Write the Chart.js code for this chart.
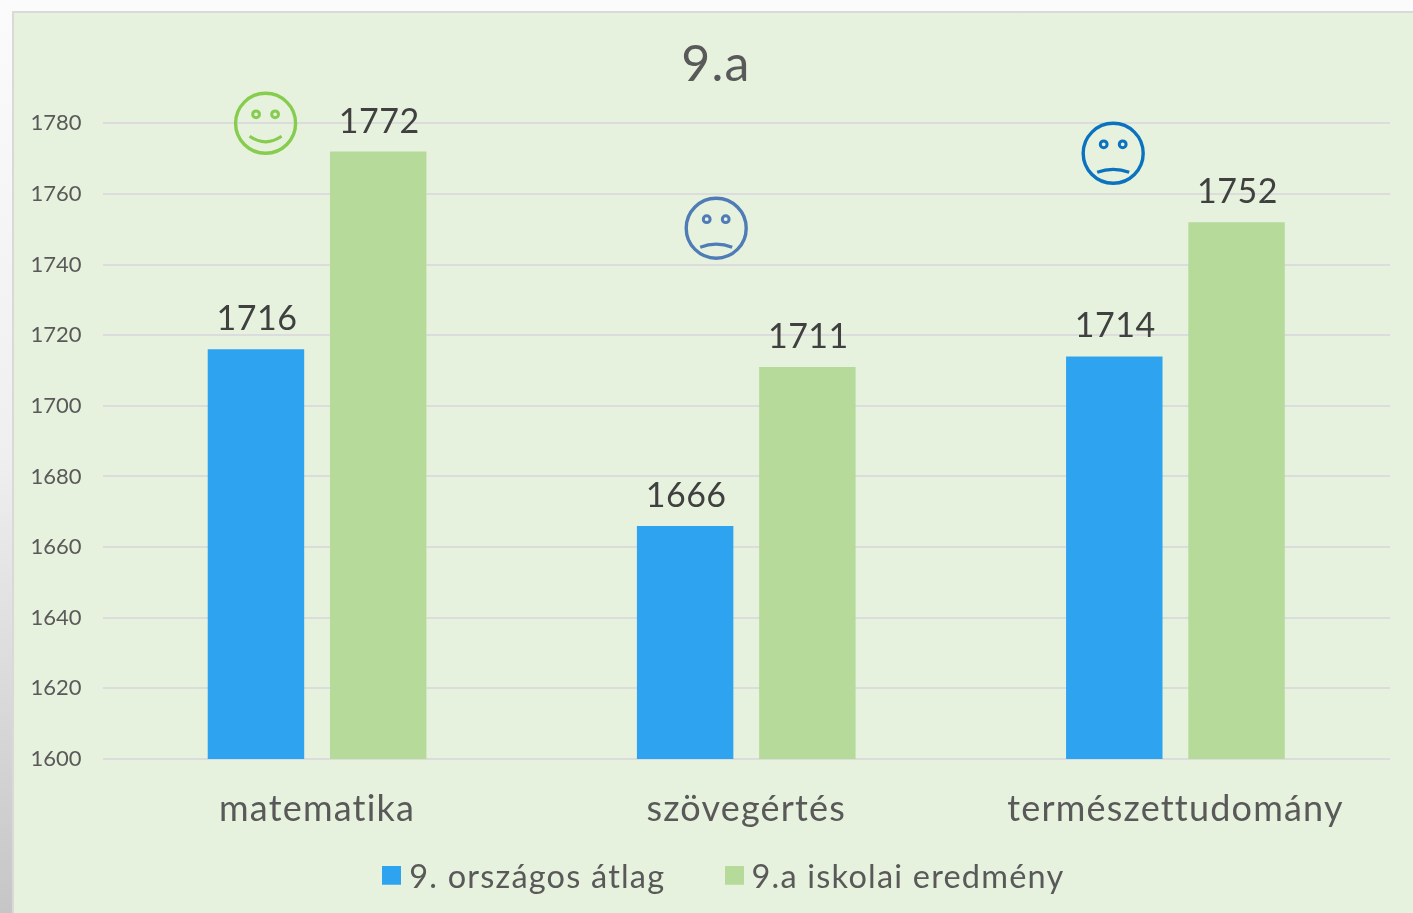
<!DOCTYPE html>
<html><head><meta charset="utf-8">
<style>
html,body{margin:0;padding:0;width:1413px;height:913px;overflow:hidden}
body{background:linear-gradient(180deg,#fbfbfb 0%,#efefef 50%,#c6c6c6 100%);position:relative}
#panel{position:absolute;left:12px;top:11px;width:1401px;height:902px;box-sizing:border-box;background:#e6f2dd;border-left:2px solid #d9d9d9;border-top:2px solid #d9d9d9}
#wrap{position:absolute;left:19px;top:0;width:1394px;height:913px}
</style></head><body>
<div id="panel"></div>
<div id="wrap"><canvas id="c" width="1394" height="913"></canvas></div>
<script src="https://cdn.jsdelivr.net/npm/chart.js@4/dist/chart.umd.js"></script>
<script>
const titleText = '9.a';
const categories = ['matematika', 'szövegértés', 'természettudomány'];
const seriesNames = ['9. országos átlag', '9.a iskolai eredmény'];
const nationalAvg = [1716, 1666, 1714];
const schoolResult = [1772, 1711, 1752];
const seriesColors = ['#2ea3f0', '#b6da9a'];
const axisMin = 1600, axisMax = 1780, axisStep = 20;
const faceMoods = ['happy', 'sad', 'sad'];
const faceColors = ['#86cc4e', '#4f7cb6', '#0b72c0'];
const faceCategoryOffset = [-0.12, -0.07, -0.145];
const faceValues = [1780, 1750.3, 1771.5];
const FONT = 'Lato, "Open Sans", sans-serif';

function swatch(color) {
  const c = document.createElement('canvas');
  c.width = 19; c.height = 23;
  const g = c.getContext('2d');
  g.fillStyle = color; g.fillRect(0, 0, 19, 19);
  return c;
}

const valueLabels = {
  id: 'valueLabels',
  afterDatasetsDraw(chart) {
    const ctx = chart.ctx;
    ctx.save();
    ctx.letterSpacing = '0.5px';
    ctx.font = '34px ' + FONT;
    ctx.fillStyle = '#404040';
    ctx.textAlign = 'center';
    ctx.textBaseline = 'bottom';
    chart.data.datasets.forEach((ds, i) => {
      chart.getDatasetMeta(i).data.forEach((bar, j) => {
        ctx.fillText(String(ds.data[j]), bar.x + 1, bar.y - 13);
      });
    });
    ctx.restore();
  }
};
const faces = {
  id: 'faces',
  afterDatasetsDraw(chart) {
    const ctx = chart.ctx, xs = chart.scales.x, ys = chart.scales.y;
    const step = xs.getPixelForValue(1) - xs.getPixelForValue(0);
    faceMoods.forEach((mood, i) => {
      const cx = xs.getPixelForValue(i) + faceCategoryOffset[i] * step;
      const cy = ys.getPixelForValue(faceValues[i]);
      ctx.save();
      ctx.strokeStyle = faceColors[i];
      ctx.lineWidth = 3.4;
      ctx.beginPath(); ctx.arc(cx, cy, 30, 0, Math.PI * 2); ctx.stroke();
      ctx.lineWidth = 3;
      [-9.5, 9.5].forEach(dx => { ctx.beginPath(); ctx.arc(cx + dx, cy - 9, 3.4, 0, Math.PI * 2); ctx.stroke(); });
      ctx.lineWidth = 3.2;
      ctx.beginPath();
      if (mood === 'happy') { ctx.moveTo(cx - 16, cy + 13); ctx.quadraticCurveTo(cx, cy + 24, cx + 16, cy + 13); }
      else { ctx.moveTo(cx - 16, cy + 19); ctx.quadraticCurveTo(cx, cy + 13, cx + 16, cy + 19); }
      ctx.stroke();
      ctx.restore();
    });
  }
};
const placeBlocks = {
  id: 'placeBlocks',
  afterLayout(chart) {
    const l = chart.legend, t = chart.titleBlock, y = chart.scales.y, ctx = chart.ctx;
    t.left += 11.5; t.right += 11.5;
    l.left += 1; l.right += 1;
    l.top = 793; l.bottom = 913;
    const drawLabels = y.drawLabels;
    y.drawLabels = function (area) {
      ctx.save(); ctx.letterSpacing = '0px';
      drawLabels.call(this, area);
      ctx.restore();
    };
  },
  beforeDraw(chart) { chart.ctx.letterSpacing = '1.2px'; }
};

new Chart(document.getElementById('c'), {
  type: 'bar',
  data: {
    labels: categories,
    datasets: [
      { label: seriesNames[0], data: nationalAvg, backgroundColor: seriesColors[0] },
      { label: seriesNames[1], data: schoolResult, backgroundColor: seriesColors[1] }
    ]
  },
  plugins: [valueLabels, faces, placeBlocks],
  options: {
    responsive: false,
    animation: false,
    categoryPercentage: 0.5697,
    barPercentage: 0.789,
    layout: { padding: { left: 0, right: 23, top: 0, bottom: 0 } },
    plugins: {
      title: { display: true, text: titleText, color: '#595959', font: { family: FONT, size: 50, weight: 'normal' }, padding: { top: 34.5, bottom: 28.8 } },
      tooltip: { enabled: false },
      legend: {
        position: 'bottom',
        maxHeight: 60,
        labels: {
          color: '#595959', usePointStyle: true, boxWidth: 2, boxHeight: 19, padding: 68,
          font: { family: FONT, size: 32.5 },
          generateLabels(chart) {
            return Chart.defaults.plugins.legend.labels.generateLabels(chart).map((it, i) => {
              it.pointStyle = swatch(seriesColors[i]);
              return it;
            });
          }
        }
      }
    },
    scales: {
      x: {
        afterFit(s) { s.height = 94; },
        grid: { display: false, drawTicks: false },
        border: { display: false },
        ticks: { color: '#595959', font: { family: FONT, size: 36 }, padding: 29, maxRotation: 0 }
      },
      y: {
        min: axisMin, max: axisMax,
        afterFit(s) { s.width = 83.5; },
        grid: { color: '#dcdcdc', lineWidth: 2, drawTicks: false },
        border: { display: false },
        ticks: { stepSize: axisStep, color: '#595959', font: { family: FONT, size: 22 }, padding: 21, callback: v => String(v) }
      }
    }
  }
});
</script>
</body></html>
